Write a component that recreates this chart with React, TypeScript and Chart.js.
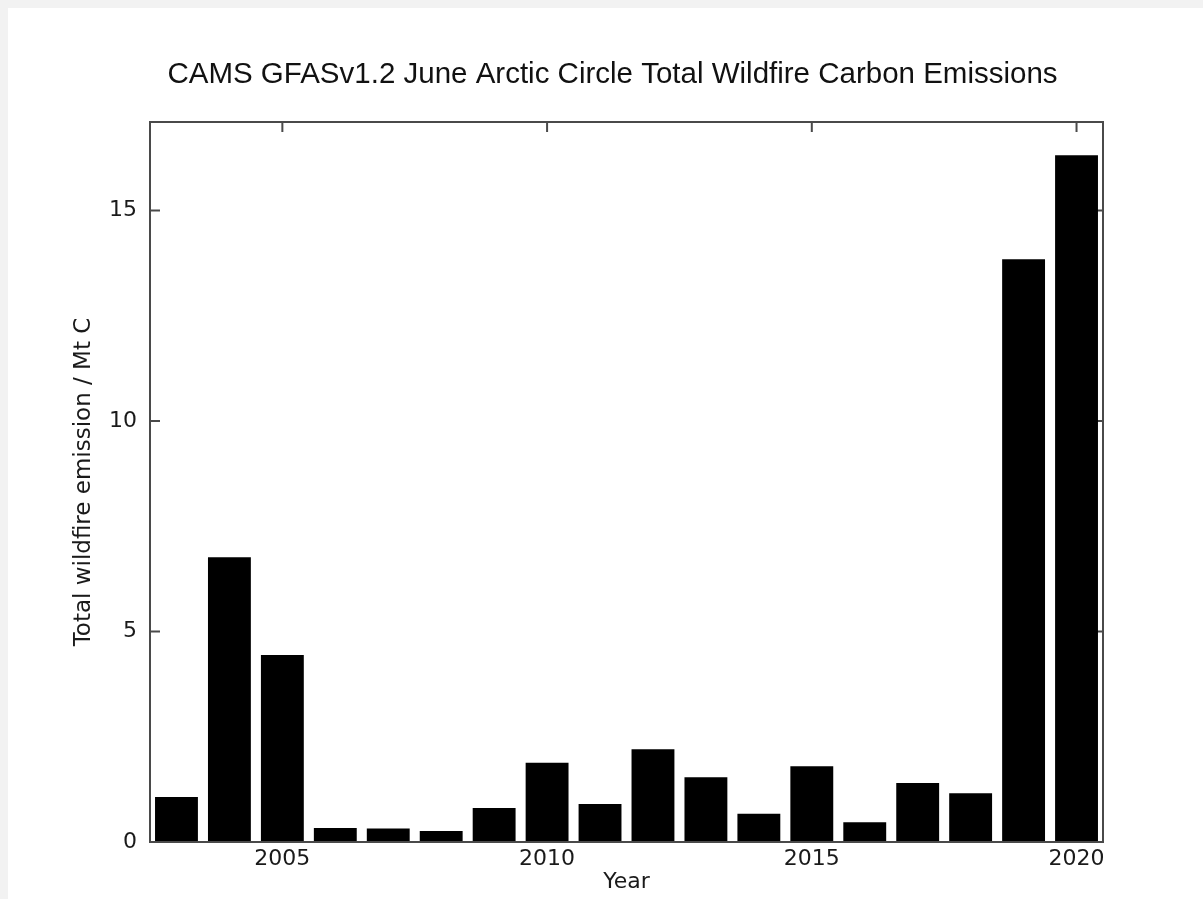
import React, { useEffect, useRef } from 'react';
import { Chart, registerables } from 'chart.js';

Chart.register(...registerables);

const years = [2003, 2004, 2005, 2006, 2007, 2008, 2009, 2010, 2011, 2012, 2013, 2014, 2015, 2016, 2017, 2018, 2019, 2020];
const emissions = [1.07, 6.76, 4.44, 0.33, 0.32, 0.26, 0.81, 1.88, 0.90, 2.20, 1.54, 0.67, 1.80, 0.47, 1.40, 1.16, 13.84, 16.31];
const yTickValues = [0, 5, 10, 15];
const xTickYears = [2005, 2010, 2015, 2020];
const yMax = 17.1;

const titleText = 'CAMS GFASv1.2 June Arctic Circle Total Wildfire Carbon Emissions';
const xTitle = 'Year';
const yTitle = 'Total wildfire emission / Mt C';

const framePlugin = {
  id: 'frame',
  beforeDatasetsDraw(chart: any) {
    const { ctx, chartArea: a, scales } = chart;
    ctx.save();
    ctx.strokeStyle = '#4a4a4a';
    ctx.lineWidth = 2;
    ctx.beginPath();
    for (const v of yTickValues) {
      const y = scales.y.getPixelForValue(v);
      ctx.moveTo(a.left, y);
      ctx.lineTo(a.left + 10, y);
      ctx.moveTo(a.right, y);
      ctx.lineTo(a.right - 10, y);
    }
    for (const yr of xTickYears) {
      const x = scales.x.getPixelForValue(years.indexOf(yr));
      ctx.moveTo(x, a.top);
      ctx.lineTo(x, a.top + 10);
      ctx.moveTo(x, a.bottom);
      ctx.lineTo(x, a.bottom - 10);
    }
    ctx.stroke();
    ctx.restore();
  },
  afterDatasetsDraw(chart: any) {
    const { ctx, chartArea: a } = chart;
    ctx.save();
    ctx.strokeStyle = '#4a4a4a';
    ctx.lineWidth = 2;
    ctx.strokeRect(a.left, a.top, a.right - a.left, a.bottom - a.top);
    ctx.restore();
  },
};

export default function App() {
  const ref = useRef<HTMLCanvasElement | null>(null);

  useEffect(() => {
    document.body.style.margin = '8px 0 0 8px';
    document.body.style.background = '#f2f2f2';
    document.body.style.overflow = 'hidden';
    const canvas = ref.current;
    if (!canvas) return;
    const chart = new Chart(canvas, {
      type: 'bar',
      data: {
        labels: years.map(String),
        datasets: [
          {
            data: emissions,
            backgroundColor: '#000000',
            borderWidth: 0,
            categoryPercentage: 1,
            barPercentage: 0.81,
          },
        ],
      },
      options: {
        animation: false,
        responsive: false,
        devicePixelRatio: 1,
        layout: { padding: { left: 14, right: 0, top: 0, bottom: 0 } },
        plugins: {
          legend: { display: false },
          tooltip: { enabled: false },
          title: {
            display: true,
            text: titleText,
            color: '#111111',
            font: { family: '"Liberation Sans", Arial, sans-serif', size: 29.5, weight: 'normal' },
            padding: { top: 49, bottom: 29.6 },
          },
        },
        scales: {
          x: {
            type: 'category',
            offset: true,
            grid: { display: false, drawTicks: false },
            border: { display: false },
            ticks: {
              autoSkip: false,
              maxRotation: 0,
              minRotation: 0,
              padding: 4,
              color: '#1a1a1a',
              font: { family: '"DejaVu Sans", sans-serif', size: 22 },
              callback: (_v: any, i: number) => (years[i] % 5 === 0 ? String(years[i]) : ''),
            },
            title: {
              display: true,
              text: xTitle,
              color: '#1a1a1a',
              font: { family: '"DejaVu Sans", sans-serif', size: 22 },
              padding: { top: 0, bottom: 4 },
            },
            afterFit: (s: any) => {
              s.height = 57;
            },
          },
          y: {
            type: 'linear',
            position: 'left',
            min: 0,
            max: yMax,
            grid: { display: false, drawTicks: false },
            border: { display: false },
            ticks: {
              stepSize: 5,
              padding: 13,
              color: '#1a1a1a',
              font: { family: '"DejaVu Sans", sans-serif', size: 22 },
            },
            afterBuildTicks: (s: any) => {
              s.ticks = s.ticks.filter((t: any) => yTickValues.includes(t.value));
            },
            title: {
              display: true,
              text: yTitle,
              color: '#1a1a1a',
              font: { family: '"DejaVu Sans", sans-serif', size: 23 },
              padding: { top: 48, bottom: 0 },
            },
            afterFit: (s: any) => {
              s.width = 128;
            },
          },
          y2: {
            type: 'linear',
            position: 'right',
            display: true,
            grid: { display: false, drawTicks: false },
            border: { display: false },
            ticks: { display: false },
            afterFit: (s: any) => {
              s.width = 100;
            },
          },
        },
      },
      plugins: [framePlugin],
    });
    return () => chart.destroy();
  }, []);

  return (
    <div style={{ width: 1195, height: 891, background: '#ffffff' }}>
      <canvas ref={ref} width={1195} height={891} style={{ display: 'block' }} />
    </div>
  );
}
